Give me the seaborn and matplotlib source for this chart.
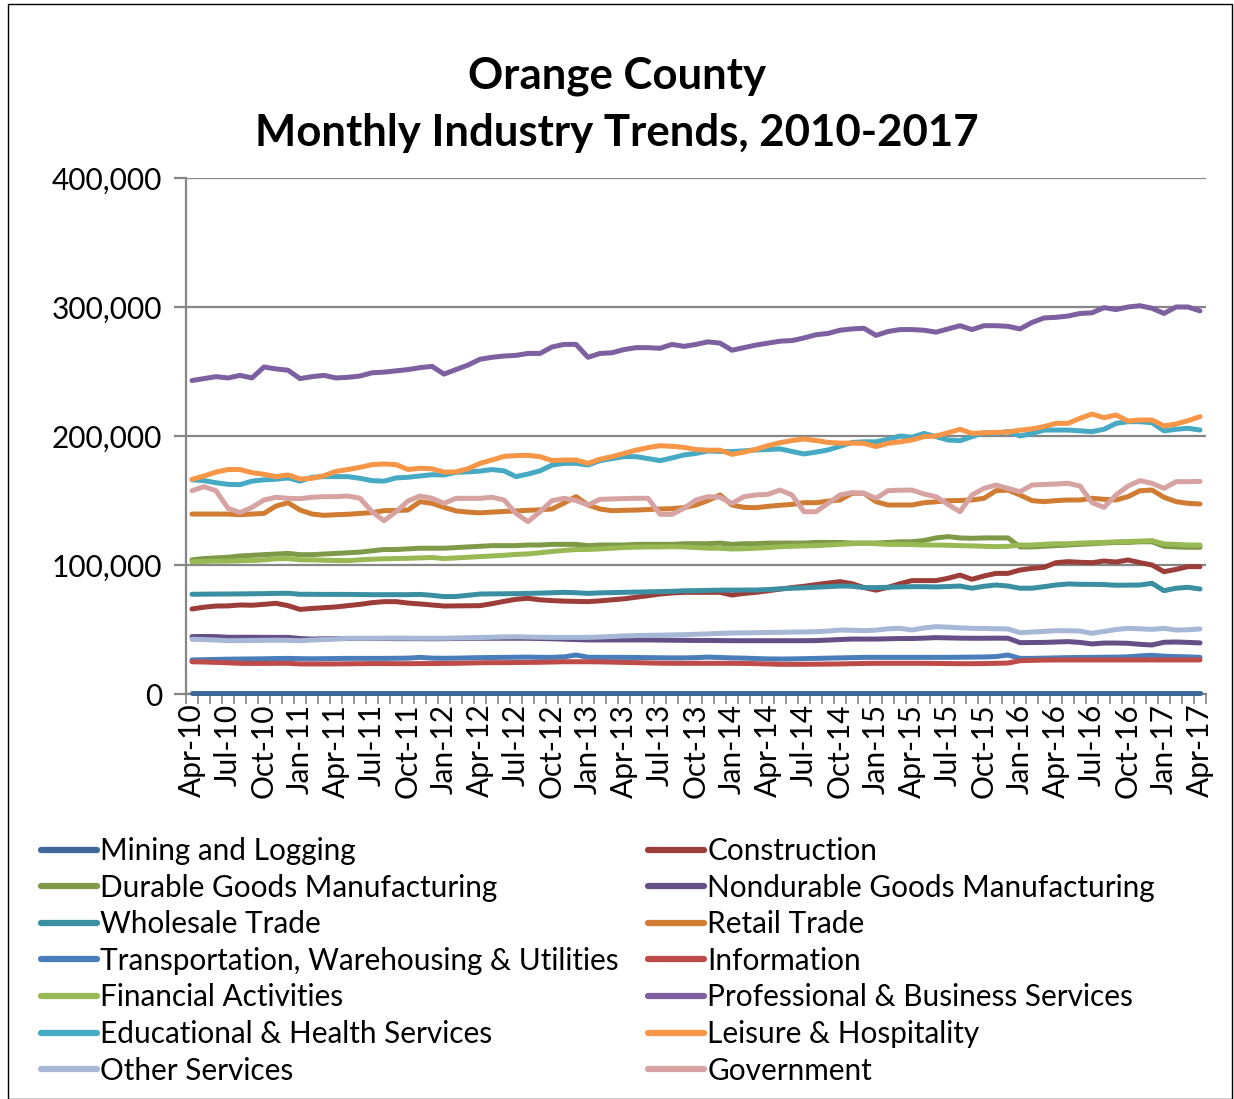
import matplotlib
matplotlib.use("Agg")
import matplotlib.pyplot as plt
from matplotlib.lines import Line2D
from matplotlib.patches import Rectangle
import seaborn as sns
import pandas as pd
import numpy as np

# ---------------------------------------------------------------------------
# Data (employment, thousands of jobs), monthly Apr-2010 .. Apr-2017
# ---------------------------------------------------------------------------
months = pd.date_range("2010-04-01", "2017-04-01", freq="MS")

mining = [0.5] * 10 + [0.5] * 10 + [0.5] * 10 + [0.5] * 10 + [0.5] * 10 + \
    [0.5] * 10 + [0.5] * 10 + [0.5] * 10 + [0.5] * 5

construction = [
    65.9, 67.3, 68.2, 68.3, 69.0, 68.8, 69.5, 70.3, 68.5, 65.6,
    66.3, 66.9, 67.5, 68.5, 69.5, 70.8, 71.6, 71.6, 70.5, 69.8,
    69.0, 68.2, 68.3, 68.4, 68.5, 70.0, 71.8, 73.4, 74.2, 73.0,
    72.4, 72.0, 71.8, 71.6, 72.2, 73.0, 73.8, 75.0, 76.2, 77.5,
    78.3, 78.8, 78.8, 78.8, 78.8, 76.7, 78.0, 78.8, 80.0, 81.3,
    82.5, 83.5, 84.8, 86.0, 87.1, 85.5, 82.5, 80.5, 82.7, 85.5,
    87.9, 87.9, 87.9, 89.7, 92.2, 88.9, 91.5, 93.5, 93.5, 96.1,
    97.4, 98.2, 101.8, 102.6, 102.1, 101.8, 103.1, 102.3, 103.9, 101.8,
    100.0, 94.8, 96.6, 98.7, 98.7]

durable = [
    104.0, 105.0, 105.5, 106.0, 107.0, 107.5, 108.0, 108.5, 109.0, 108.0,
    108.0, 108.5, 109.0, 109.5, 110.0, 111.0, 112.0, 112.0, 112.5, 113.0,
    113.0, 113.0, 113.5, 114.0, 114.5, 115.0, 115.0, 115.0, 115.5, 115.5,
    116.0, 116.0, 116.0, 115.0, 115.5, 115.5, 115.5, 116.0, 116.0, 116.0,
    116.0, 116.5, 116.5, 116.5, 117.0, 116.0, 116.5, 116.5, 117.0, 117.0,
    117.0, 117.0, 117.5, 117.5, 117.5, 117.0, 117.0, 117.0, 117.5, 118.0,
    118.0, 119.0, 121.0, 122.0, 121.0, 120.7, 121.0, 121.0, 121.0, 114.0,
    114.0, 114.5, 115.0, 115.5, 116.0, 116.5, 117.0, 117.5, 117.5, 118.0,
    118.0, 114.5, 114.0, 113.7, 113.7]

nondurable = [
    44.5, 44.6, 44.5, 44.0, 44.0, 44.0, 43.9, 43.9, 43.9, 43.0,
    42.6, 42.8, 42.9, 43.0, 43.0, 43.0, 43.0, 42.9, 42.9, 42.9,
    42.8, 42.9, 43.0, 43.1, 43.2, 43.2, 43.2, 43.2, 43.2, 43.0,
    42.8, 42.5, 42.2, 41.9, 41.9, 41.9, 41.9, 41.9, 41.9, 41.8,
    41.7, 41.6, 41.5, 41.5, 41.4, 41.3, 41.3, 41.3, 41.3, 41.3,
    41.3, 41.3, 41.4, 41.8, 42.2, 42.6, 42.6, 42.6, 42.8, 43.0,
    43.0, 43.3, 43.7, 43.5, 43.3, 43.2, 43.2, 43.3, 43.2, 39.8,
    39.9, 40.0, 40.3, 40.6, 40.0, 38.8, 39.5, 39.5, 39.3, 38.5,
    38.0, 40.1, 40.3, 40.0, 39.6]

wholesale = [
    77.3, 77.4, 77.5, 77.5, 77.6, 77.7, 77.8, 78.0, 78.1, 77.3,
    77.3, 77.2, 77.2, 77.2, 77.1, 77.0, 77.0, 77.0, 77.0, 77.2,
    76.5, 75.5, 75.6, 76.5, 77.5, 77.6, 77.7, 77.8, 78.0, 78.2,
    78.5, 78.8, 78.5, 78.0, 78.4, 78.6, 78.8, 79.0, 79.2, 79.4,
    79.6, 80.0, 80.1, 80.3, 80.5, 80.5, 80.6, 80.6, 81.0, 81.5,
    82.0, 82.3, 82.8, 83.2, 83.7, 83.5, 82.5, 82.5, 82.7, 83.0,
    83.2, 83.2, 83.0, 83.3, 83.7, 82.0, 83.5, 84.5, 83.7, 82.0,
    82.0, 83.2, 84.5, 85.3, 85.0, 85.0, 84.8, 84.3, 84.4, 84.5,
    85.8, 80.1, 82.0, 82.7, 81.4]

retail = [
    139.5, 139.5, 139.5, 139.5, 139.0, 139.5, 140.0, 145.7, 148.3, 142.6,
    139.5, 138.5, 139.0, 139.3, 140.0, 140.6, 142.1, 142.3, 142.6, 149.1,
    147.8, 144.7, 141.9, 141.0, 140.4, 141.0, 141.5, 141.9, 142.4, 142.8,
    143.4, 148.0, 153.0, 146.5, 143.4, 142.1, 142.4, 142.6, 143.0, 143.4,
    143.7, 144.5, 146.5, 150.0, 154.3, 146.5, 144.7, 144.4, 145.5, 146.3,
    147.0, 148.3, 148.3, 149.5, 150.4, 155.6, 155.6, 149.1, 146.5, 146.5,
    146.5, 148.3, 149.0, 149.9, 150.0, 150.4, 151.7, 157.6, 158.1, 154.3,
    149.9, 149.1, 149.9, 150.4, 150.4, 151.7, 150.9, 150.4, 153.0, 157.6,
    158.1, 152.5, 149.1, 147.8, 147.3]

transportation = [
    26.4, 26.6, 26.8, 27.0, 27.1, 27.2, 27.3, 27.5, 27.6, 27.4,
    27.3, 27.4, 27.5, 27.6, 27.6, 27.6, 27.6, 27.7, 27.8, 28.4,
    27.8, 27.7, 27.8, 28.0, 28.2, 28.3, 28.4, 28.5, 28.6, 28.4,
    28.4, 28.8, 30.2, 28.5, 28.4, 28.4, 28.4, 28.3, 28.2, 28.1,
    28.0, 28.0, 28.2, 28.6, 28.3, 28.0, 27.8, 27.5, 27.2, 27.1,
    27.2, 27.4, 27.6, 27.8, 28.0, 28.2, 28.4, 28.4, 28.4, 28.4,
    28.4, 28.4, 28.4, 28.4, 28.5, 28.6, 28.7, 29.0, 30.2, 27.6,
    27.6, 27.8, 28.0, 28.2, 28.3, 28.4, 28.5, 28.6, 28.8, 29.5,
    30.0, 29.3, 29.0, 28.8, 28.4]

information = [
    25.0, 24.8, 24.5, 24.2, 23.8, 23.7, 23.7, 23.8, 23.8, 23.3,
    23.3, 23.3, 23.3, 23.4, 23.5, 23.6, 23.6, 23.5, 23.5, 23.6,
    23.6, 23.7, 23.8, 24.0, 24.2, 24.3, 24.3, 24.4, 24.5, 24.6,
    24.8, 25.0, 25.0, 25.0, 24.9, 24.7, 24.5, 24.3, 24.1, 23.9,
    23.8, 23.8, 23.8, 23.8, 23.8, 23.8, 23.7, 23.5, 23.3, 23.0,
    23.0, 23.0, 23.1, 23.2, 23.3, 23.5, 23.7, 23.8, 23.8, 23.8,
    23.8, 23.8, 23.7, 23.6, 23.5, 23.5, 23.6, 23.8, 24.0, 25.8,
    26.1, 26.3, 26.4, 26.4, 26.4, 26.4, 26.4, 26.4, 26.4, 26.4,
    26.4, 26.4, 26.4, 26.4, 26.4]

financial = [
    102.5, 102.8, 103.0, 103.0, 103.3, 103.5, 104.0, 104.8, 105.0, 104.0,
    104.0, 103.7, 103.5, 103.4, 104.0, 104.5, 104.8, 105.0, 105.2, 105.5,
    105.8, 105.0, 105.5, 106.0, 106.5, 107.0, 107.5, 108.2, 108.6, 109.5,
    110.5, 111.3, 112.0, 112.0, 112.5, 113.0, 113.5, 113.8, 114.0, 114.0,
    114.2, 114.0, 113.5, 113.0, 113.0, 112.4, 112.6, 113.0, 113.5, 114.2,
    114.5, 114.8, 115.0, 115.5, 116.0, 116.5, 117.0, 116.5, 116.0, 116.0,
    115.8, 115.5, 115.5, 115.3, 115.0, 114.8, 114.5, 114.2, 114.5, 115.5,
    115.5, 116.0, 116.5, 116.5, 117.0, 117.3, 117.5, 118.0, 118.2, 118.5,
    118.9, 116.3, 116.0, 115.5, 115.5]

professional = [
    243.0, 244.5, 246.0, 245.0, 247.0, 245.0, 253.5, 252.0, 251.0, 244.5,
    246.0, 247.0, 245.0, 245.5, 246.5, 249.0, 249.5, 250.5, 251.5, 253.0,
    254.0, 248.0, 251.5, 255.0, 259.5, 261.0, 262.0, 262.5, 264.0, 264.0,
    269.0, 271.0, 271.0, 261.0, 264.0, 264.5, 267.0, 268.5, 268.5, 268.0,
    271.0, 269.5, 271.0, 273.0, 272.0, 266.5, 268.5, 270.5, 272.0, 273.5,
    274.0, 276.0, 278.5, 279.5, 282.0, 283.0, 283.5, 278.0, 281.0, 282.5,
    282.5, 282.0, 280.5, 283.0, 285.5, 282.5, 285.5, 285.5, 285.0, 283.0,
    288.0, 291.5, 292.0, 293.0, 295.0, 295.5, 299.5, 298.0, 300.0, 301.0,
    299.0, 295.0, 300.0, 300.0, 297.0]

education_health = [
    166.0, 165.4, 163.8, 162.5, 162.3, 165.0, 166.0, 166.5, 167.5, 165.0,
    168.0, 168.5, 168.5, 168.5, 167.2, 165.4, 165.0, 167.5, 168.0, 169.0,
    170.0, 169.8, 171.8, 172.2, 172.8, 174.0, 173.0, 168.5, 170.5, 173.0,
    177.5, 178.8, 178.8, 177.5, 180.9, 182.5, 184.0, 184.0, 182.5, 180.9,
    183.0, 185.3, 186.5, 188.4, 188.0, 187.9, 188.5, 189.2, 189.5, 190.0,
    188.0, 186.1, 187.5, 189.2, 192.0, 195.0, 195.5, 195.5, 197.4, 200.0,
    199.0, 202.0, 199.5, 196.9, 196.4, 199.5, 202.6, 202.0, 203.4, 200.0,
    202.0, 204.6, 204.6, 204.6, 204.0, 203.4, 205.2, 209.8, 211.1, 211.1,
    210.3, 204.0, 205.2, 206.0, 204.6]

leisure = [
    166.4, 169.0, 172.0, 174.0, 174.0, 171.6, 170.3, 168.5, 169.8, 166.7,
    167.2, 169.2, 172.6, 174.0, 175.7, 177.8, 178.3, 177.8, 174.0, 175.0,
    174.6, 172.0, 172.2, 174.6, 178.8, 181.4, 184.2, 184.8, 185.0, 184.0,
    181.0, 181.4, 181.4, 178.8, 182.0, 184.0, 186.5, 189.0, 191.0, 192.5,
    192.0, 191.2, 189.5, 189.0, 189.0, 185.8, 187.5, 189.7, 192.5, 194.8,
    196.5, 197.7, 196.5, 195.0, 194.5, 194.5, 194.3, 191.8, 194.3, 195.5,
    196.9, 199.5, 200.0, 202.5, 205.2, 202.0, 202.5, 202.8, 203.1, 204.5,
    205.5, 207.3, 209.8, 209.8, 213.7, 217.0, 214.2, 216.3, 211.6, 212.4,
    212.4, 207.8, 209.3, 211.9, 215.0]

other_services = [
    42.4, 42.2, 41.8, 41.3, 41.4, 41.5, 41.6, 41.7, 41.6, 41.3,
    41.8, 42.2, 42.7, 43.2, 43.2, 43.2, 43.3, 43.3, 43.3, 43.2,
    43.2, 43.2, 43.4, 43.6, 43.8, 44.0, 44.3, 44.4, 44.2, 44.0,
    43.9, 43.9, 43.9, 43.9, 44.2, 44.6, 45.0, 45.3, 45.5, 45.6,
    45.8, 46.0, 46.3, 46.6, 47.0, 47.3, 47.4, 47.5, 47.7, 47.8,
    48.0, 48.1, 48.3, 48.8, 49.6, 49.4, 49.1, 49.5, 50.5, 50.9,
    49.6, 51.2, 52.2, 51.8, 51.3, 50.9, 50.8, 50.6, 50.4, 47.5,
    48.0, 48.5, 49.1, 49.0, 48.8, 47.0, 48.5, 50.0, 50.9, 50.5,
    50.1, 50.9, 49.6, 49.8, 50.4]

government = [
    157.6, 160.7, 157.6, 144.0, 140.6, 144.7, 150.4, 152.5, 151.7, 151.4,
    152.5, 153.0, 153.0, 153.5, 151.7, 141.3, 134.3, 141.3, 149.6, 153.5,
    151.7, 147.8, 151.7, 151.7, 151.7, 152.5, 150.4, 140.0, 133.6, 141.3,
    149.9, 151.7, 150.0, 146.5, 150.9, 151.2, 151.5, 151.7, 151.7, 139.3,
    139.3, 144.0, 150.4, 153.0, 152.5, 147.8, 153.0, 154.3, 154.8, 158.1,
    154.3, 141.3, 141.3, 147.8, 154.3, 156.1, 155.6, 151.7, 157.6, 158.0,
    158.1, 155.0, 153.0, 147.0, 141.3, 154.3, 159.4, 162.0, 159.4, 156.8,
    162.0, 162.4, 162.8, 163.3, 161.2, 148.3, 144.7, 154.3, 161.2, 165.4,
    163.3, 159.4, 164.6, 164.6, 164.8]

series = {
    "Mining and Logging": mining,
    "Construction": construction,
    "Durable Goods Manufacturing": durable,
    "Nondurable Goods Manufacturing": nondurable,
    "Wholesale Trade": wholesale,
    "Retail Trade": retail,
    "Transportation, Warehousing & Utilities": transportation,
    "Information": information,
    "Financial Activities": financial,
    "Professional & Business Services": professional,
    "Educational & Health Services": education_health,
    "Leisure & Hospitality": leisure,
    "Other Services": other_services,
    "Government": government,
}

colors = {
    "Mining and Logging": "#3F6899",
    "Construction": "#9C3D3A",
    "Durable Goods Manufacturing": "#7E9A48",
    "Nondurable Goods Manufacturing": "#664F86",
    "Wholesale Trade": "#3A8FA2",
    "Retail Trade": "#D07C33",
    "Transportation, Warehousing & Utilities": "#4A7EBB",
    "Information": "#BE4B48",
    "Financial Activities": "#98B954",
    "Professional & Business Services": "#7D60A0",
    "Educational & Health Services": "#46AAC5",
    "Leisure & Hospitality": "#F79646",
    "Other Services": "#A7B7D6",
    "Government": "#D7A3A2",
}

tick_step = 3
xtick_labels = [d.strftime("%b-%y") for d in months[::tick_step]]

# long-form table for seaborn
rows = []
for name, vals in series.items():
    for i, v in enumerate(vals):
        rows.append({"idx": i, "industry": name, "jobs": v * 1000})
df = pd.DataFrame(rows)

# ---------------------------------------------------------------------------
# Plot
# ---------------------------------------------------------------------------
sns.set_theme(style="white")
plt.rcParams["font.family"] = ["Lato", "DejaVu Sans"]
plt.rcParams["text.color"] = "black"
plt.rcParams["xtick.color"] = "black"
plt.rcParams["ytick.color"] = "black"

fig = plt.figure(figsize=(12.34, 10.99), dpi=100)
ax = fig.add_axes([186 / 1234, 1 - 694 / 1099, 1020 / 1234, 516 / 1099])

sns.lineplot(data=df, x="idx", y="jobs", hue="industry", palette=colors,
             hue_order=list(series.keys()), linewidth=3.6, legend=False, ax=ax)
for ln in ax.lines:
    ln.set_solid_capstyle("round")
    ln.set_solid_joinstyle("round")
    ln.set_zorder(3)
    ln.set_clip_on(False)

grid_c = "#868686"
ax.set_ylim(0, 400000)
ax.set_yticks(range(0, 400001, 100000))
ax.set_yticklabels([f"{v:,}" for v in range(0, 400001, 100000)], fontsize=21.5)
ax.yaxis.grid(True, color=grid_c, linewidth=1.6)
ax.set_axisbelow(True)

n = len(months)
ax.set_xlim(-0.5, n - 0.5)
ax.set_xticks(range(0, n, tick_step))
ax.set_xticklabels(xtick_labels, rotation=90, fontsize=21.5)
ax.set_xticks(np.arange(-0.5, n, 1), minor=True)
ax.tick_params(axis="x", which="major", length=0, pad=7)
ax.tick_params(axis="x", which="minor", length=7, width=1.2, color=grid_c,
               direction="out", bottom=True)
ax.tick_params(axis="y", length=9, width=1.6, color=grid_c, left=True,
               direction="out", pad=8, labelcolor="black")
ax.set_xlabel("")
ax.set_ylabel("")

for s in ["top", "right"]:
    ax.spines[s].set_visible(False)
for s in ["left", "bottom"]:
    ax.spines[s].set_color(grid_c)
    ax.spines[s].set_linewidth(1.6)

fig.text(0.5, 1 - 76 / 1099, "Orange County", ha="center", va="center",
         fontsize=31.5, fontweight="bold", color="black")
fig.text(0.5, 1 - 133 / 1099, "Monthly Industry Trends, 2010-2017",
         ha="center", va="center", fontsize=31.5, fontweight="bold",
         color="black")

# legend: row-major order in two columns
names = list(series.keys())
order = names[0::2] + names[1::2]
handles = [Line2D([], [], color=colors[k], linewidth=4.5, solid_capstyle="round")
           for k in order]
fig.legend(handles, order, loc="upper left",
           bbox_to_anchor=(41 / 1234, 1 - 837 / 1099), ncol=2, frameon=False,
           fontsize=21.4, handlelength=1.9, handletextpad=0.1,
           columnspacing=0.97, labelspacing=0.29, borderaxespad=0,
           borderpad=0, labelcolor="black")

fig.patches.append(Rectangle((8 / 1234, 0), 1224 / 1234, 1 - 4 / 1099,
                             transform=fig.transFigure, fill=False,
                             edgecolor="#000000", linewidth=1.0))

fig.savefig("out.png", dpi=100)
